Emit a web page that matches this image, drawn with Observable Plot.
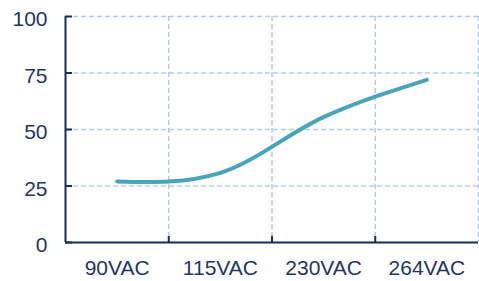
<!DOCTYPE html>
<html>
<head>
<meta charset="utf-8">
<script src="https://cdn.jsdelivr.net/npm/d3@7"></script>
<script src="https://cdn.jsdelivr.net/npm/@observablehq/plot@0.6"></script>
<style>
  html, body { margin: 0; padding: 0; background: #fff; }
</style>
</head>
<body>
<div id="chart"></div>
<script>
const categories = ["90VAC", "115VAC", "230VAC", "264VAC"];
const values = [27, 30.8, 55.5, 72];
const yTicks = [0, 25, 50, 75, 100];

const navy = "#1d2b5c";
const textColor = "#26365f";
const gridColor = "#b8cce4";
const lineColor = "#4aa5bb";

const n = categories.length;
const idx = d3.range(n);
const bounds = d3.range(0.5, n, 1);           // band boundaries (between categories + right end)
const xDomain = [-0.5, n - 0.5];

// Smooth cubic Hermite curve (x-monotone, secant-averaged tangents, unclamped)
function curveSmoothX(context) {
  let xs = [], ys = [];
  return {
    areaStart() {}, areaEnd() {},
    lineStart() { xs = []; ys = []; },
    point(x, y) { xs.push(+x); ys.push(+y); },
    lineEnd() {
      const k = xs.length;
      if (!k) return;
      context.moveTo(xs[0], ys[0]);
      if (k === 1) return;
      if (k === 2) { context.lineTo(xs[1], ys[1]); return; }
      const h = [], s = [];
      for (let i = 0; i < k - 1; i++) { h[i] = xs[i + 1] - xs[i]; s[i] = (ys[i + 1] - ys[i]) / h[i]; }
      const m = new Array(k);
      for (let i = 1; i < k - 1; i++) m[i] = (s[i - 1] * h[i] + s[i] * h[i - 1]) / (h[i - 1] + h[i]);
      m[0] = (3 * s[0] - m[1]) / 2;
      m[k - 1] = (3 * s[k - 2] - m[k - 2]) / 2;
      for (let i = 0; i < k - 1; i++) {
        const dx = h[i] / 3;
        context.bezierCurveTo(xs[i] + dx, ys[i] + dx * m[i], xs[i + 1] - dx, ys[i + 1] - dx * m[i + 1], xs[i + 1], ys[i + 1]);
      }
    }
  };
}

const chart = Plot.plot({
  width: 479,
  height: 281,
  marginLeft: 65,
  marginRight: 1,
  marginTop: 16,
  marginBottom: 39,
  style: { fontFamily: "Liberation Sans, Arial, sans-serif", fontSize: "21px", color: textColor, background: "#fff" },
  x: { type: "linear", domain: xDomain, axis: null },
  y: { domain: [0, 100], axis: null },
  marks: [
    Plot.ruleY(yTicks.filter(d => d > 0), { stroke: gridColor, strokeWidth: 1.6, strokeDasharray: "5,3" }),
    Plot.ruleX(bounds, { stroke: gridColor, strokeWidth: 1.6, strokeDasharray: "5,3" }),
    Plot.line(values, { x: (d, i) => i, y: d => d, curve: curveSmoothX, stroke: lineColor, strokeWidth: 4, strokeLinecap: "round" }),
    Plot.ruleX([xDomain[0]], { stroke: navy, strokeWidth: 2 }),
    Plot.ruleY([0], { stroke: navy, strokeWidth: 2 }),
    // inward tick marks
    Plot.axisY({ ticks: yTicks, tickSize: -7, tickFormat: () => "", stroke: navy, strokeWidth: 2 }),
    Plot.axisX({ ticks: bounds.slice(0, -1), tickSize: -6, tickFormat: () => "", stroke: navy, strokeWidth: 2 }),
    // labels
    Plot.axisY({ ticks: yTicks, tickSize: 0, tickPadding: 18, fill: textColor, fontSize: 21, dy: 3 }),
    Plot.axisX({ ticks: idx, tickSize: 0, tickPadding: 18, tickFormat: i => categories[i], fill: textColor, fontSize: 21 })
  ]
});
document.getElementById("chart").appendChild(chart);
</script>
</body>
</html>
